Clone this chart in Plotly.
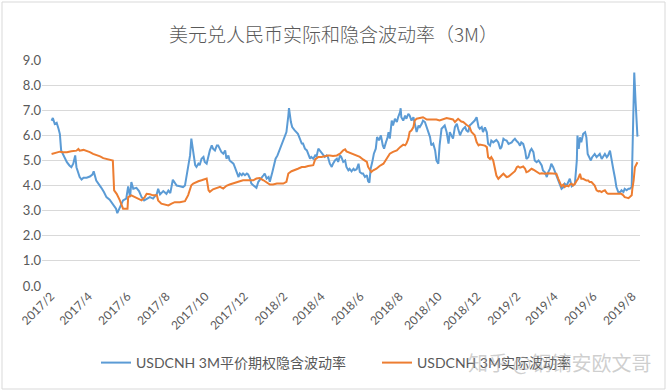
import pandas as pd
import plotly.graph_objects as go

START = "2017-02-01"

# Implied vol (USDCNH 3M ATM option implied volatility), days since START
implied_day = [1, 3, 6, 9, 12, 14, 16, 19, 22, 25, 29, 32, 35, 38, 40, 43, 45, 48, 51, 56,
               61, 65, 67, 71, 74, 79, 83, 87, 92, 98, 102, 104, 108, 113, 118, 121, 124, 126, 129, 134,
               138, 142, 146, 150, 155, 160, 166, 168, 171, 176, 181, 184, 187, 191, 194, 197, 202, 207,
               210, 218, 220, 223, 226, 228, 231, 233, 236, 239, 241, 244, 247, 249, 252, 254, 257, 260,
               262, 265, 267, 270, 273, 275, 278, 280, 283, 286, 288, 291, 294, 296, 299, 301, 304, 307,
               309, 312, 314, 317, 320, 322, 325, 327, 330, 333, 335, 338, 341, 343, 347, 350, 352, 355,
               359, 361, 364, 367, 369, 372, 373, 376, 378, 382, 387, 390, 393, 395, 398, 401, 403, 406,
               408, 411, 414, 416, 419, 421, 424, 427, 429, 432, 434,
               437, 440, 442, 445, 448, 450, 453, 455, 458, 461, 463, 466, 468, 471, 474, 476, 479, 482,
               484, 487, 489, 492, 495, 497, 499, 501, 504, 506, 509, 511, 514, 517, 520, 522, 525, 527,
               529, 531, 534, 536, 539, 542, 544, 547, 548, 549, 552, 555, 557, 560, 562, 565, 568, 570,
               573, 576, 578, 581, 583, 586, 589, 591, 594, 596, 599, 602, 604, 607, 609, 612, 615, 617,
               620, 623, 625, 628, 630, 633, 636, 638, 641, 643, 646, 649, 651, 654, 656, 659, 662, 664,
               667, 670, 672, 675, 677,
               680, 683, 685, 688, 690, 693, 696, 698, 701, 704, 706, 709, 711, 714, 717, 719, 722, 724,
               727, 730, 732, 735, 737, 740, 743, 745, 748, 751, 753, 756, 758, 761, 764, 766, 769, 771,
               774, 777, 779, 782, 784, 787, 790, 792, 795, 798, 800, 803, 805, 808, 811, 813, 816, 818,
               821, 824, 825, 827, 829, 831, 834, 837, 839, 841, 843, 846, 848, 850, 852, 855, 860, 863,
               865, 868, 871, 873, 876, 878, 881, 884, 886, 889, 892, 894, 897, 899, 902, 905, 907, 910,
               911, 913, 914, 916, 918, 919]
implied_vol = [6.58, 6.69, 6.45, 6.50, 6.25, 6.05, 5.40, 5.26, 5.06, 4.93, 4.80, 4.73, 4.87, 5.20, 4.73, 4.53, 4.34, 4.24, 4.31, 4.31,
               4.36, 4.44, 4.57, 4.20, 4.10, 3.91, 3.74, 3.54, 3.44, 3.20, 3.08, 2.90, 3.15, 3.41, 3.48, 3.97, 3.54, 4.14, 3.87, 3.91,
               3.78, 3.54, 3.41, 3.48, 3.54, 3.48, 3.67, 3.87, 3.65, 3.78, 3.67, 3.80, 3.70, 4.23, 4.10, 4.00, 3.97, 3.94,
               4.00, 5.20, 5.87, 5.27, 4.81, 4.74, 4.87, 4.81, 5.07, 5.14, 4.94, 4.87, 5.27, 5.40, 5.60, 5.47, 5.40, 5.60,
               5.60, 5.47, 5.34, 5.27, 5.40, 5.07, 5.20, 5.00, 4.94, 4.87, 4.74, 4.54, 4.34, 4.48, 4.41, 4.48, 4.41, 4.48,
               4.44, 4.28, 4.08, 4.01, 3.95, 3.91, 4.15, 4.21, 4.28, 4.41, 4.48, 4.28, 4.34, 4.15, 4.54, 4.94, 5.07, 5.20,
               5.47, 5.53, 5.73, 6.00, 6.13, 6.79, 7.08, 6.53, 6.33, 6.20, 6.06, 5.87, 5.67, 5.67, 5.47, 5.40, 5.27, 5.07,
               5.14, 5.07, 5.20, 5.14, 5.47, 5.40, 5.34, 5.20, 5.14, 5.20, 5.14,
               4.87, 4.74, 4.87, 5.00, 5.07, 4.94, 5.20, 5.14, 4.94, 5.00, 4.74, 4.61, 4.67, 4.57, 4.67, 4.61, 4.65, 4.87,
               4.54, 4.48, 4.48, 4.34, 4.41, 4.17, 4.12, 4.67, 5.00, 5.27, 5.47, 5.93, 5.80, 6.00, 5.60, 5.47, 5.73, 5.87,
               6.13, 5.87, 6.59, 6.39, 6.66, 6.53, 6.72, 6.92, 7.08, 6.72, 6.59, 6.79, 6.66, 6.86, 6.79, 6.59, 6.72, 6.53,
               6.13, 6.39, 6.33, 6.46, 6.59, 6.53, 6.33, 6.13, 5.93, 5.60, 5.67, 5.40, 5.00, 4.87, 5.60, 6.26, 6.33, 6.39,
               6.13, 5.67, 6.13, 6.00, 5.87, 6.33, 6.46, 6.26, 6.00, 6.13, 6.26, 6.33, 6.20, 6.13, 6.39, 6.46, 6.53, 6.59,
               6.72, 6.33, 6.26, 6.33, 6.13,
               6.32, 6.12, 5.66, 5.59, 5.79, 5.72, 5.79, 5.82, 5.72, 5.46, 5.53, 5.86, 5.82, 5.79, 5.66, 5.69, 5.72, 5.79,
               5.86, 5.76, 5.72, 5.59, 5.72, 5.66, 5.39, 5.06, 5.13, 5.39, 5.46, 5.33, 5.00, 4.93, 5.00, 4.93, 4.80, 4.60,
               4.53, 4.34, 4.53, 4.67, 4.87, 4.73, 4.53, 4.40, 4.20, 4.07, 3.87, 3.94, 4.07, 4.00, 4.14, 4.27, 3.97, 4.00,
               4.07, 5.00, 5.99, 5.46, 5.92, 5.72, 6.06, 6.12, 5.92, 5.26, 5.13, 5.00, 5.13, 5.20, 5.26, 5.13, 5.26, 5.06,
               5.13, 5.26, 5.13, 5.20, 5.39, 5.06, 4.67, 4.27, 3.94, 3.74, 3.74, 3.81, 3.74, 3.87, 3.81, 3.87, 3.87, 3.94,
               5.00, 7.38, 8.50, 7.38, 6.06, 5.95]

# Realized vol (USDCNH 3M realized volatility), days since START
realized_day = [1, 9, 14, 19, 25, 32, 40, 43, 45, 51, 56, 61, 66, 72, 77, 82, 87, 92, 97, 99,
                103, 108, 111, 113, 120, 121, 126, 132, 137, 142, 147, 150, 155, 160, 166, 168, 173, 179, 184, 189,
                194, 202,
                210, 215, 218, 220, 223, 226, 231, 236, 241, 244, 247, 249, 254, 260, 265, 270, 275, 280, 286, 291,
                296, 301, 307, 312, 317, 322, 327, 333, 338, 343, 348, 354, 359, 364, 369, 372, 377, 382, 387, 393,
                398, 403, 408, 411, 414, 419, 424, 429, 434,
                437, 442, 448, 453, 458, 461, 463, 468, 474, 479, 484, 489, 495, 497, 500, 502, 505, 510, 515, 521,
                526, 529, 531, 536, 542, 547, 552, 555, 557, 560, 562, 565, 568, 570, 573, 578, 583, 589, 594, 599,
                604, 609, 615, 620, 625, 630, 633, 636, 638, 643, 646, 651, 656, 659, 662, 664, 667, 670, 672, 677,
                680, 683, 685, 688, 690, 693, 696, 698, 701, 703, 706, 709, 711, 714, 717, 719, 722, 724, 727, 730,
                732, 735, 737, 740, 743, 745, 748, 750, 753, 756, 758, 761, 764, 766, 769, 774, 779, 784, 790, 792,
                795, 798, 800, 803, 805, 808, 811, 813, 816, 818, 821, 824, 826, 829, 831, 834, 837, 839, 842, 844,
                847, 850, 852, 855, 858, 860, 863, 865, 868, 871, 873, 878, 884, 889, 894, 897, 899, 902, 905, 907,
                910, 911, 913, 915, 918, 919]
realized_vol = [5.26, 5.33, 5.35, 5.33, 5.33, 5.37, 5.39, 5.46, 5.39, 5.42, 5.39, 5.33, 5.26, 5.22, 5.16, 5.09, 5.06, 5.06, 5.00, 3.81,
                3.67, 3.41, 3.15, 3.08, 3.08, 3.54, 3.61, 3.54, 3.48, 3.41, 3.54, 3.67, 3.65, 3.61, 3.61, 3.41, 3.28, 3.25, 3.21, 3.28,
                3.34, 3.34,
                3.38, 3.62, 3.81, 4.01, 4.08, 4.12, 4.17, 4.21, 4.25, 4.28, 3.81, 3.75, 3.85, 3.91, 3.95, 3.88, 3.99, 4.04, 4.08, 4.11,
                4.17, 4.21, 4.21, 4.21, 4.21, 4.28, 4.30, 4.21, 4.12, 4.04, 4.04, 4.08, 4.08, 4.08, 4.15, 4.48, 4.57, 4.61, 4.67, 4.74,
                4.74, 4.78, 4.81, 4.81, 5.04, 5.14, 5.14, 5.18, 5.20,
                5.20, 5.18, 5.20, 5.27, 5.40, 5.44, 5.36, 5.31, 5.27, 5.20, 5.14, 5.04, 4.94, 4.74, 4.61, 4.54, 4.61, 4.67, 4.78, 4.87,
                5.07, 5.20, 5.27, 5.34, 5.40, 5.53, 5.63, 5.60, 5.67, 5.87, 6.13, 6.20, 6.33, 6.59, 6.66, 6.69, 6.72, 6.63, 6.63, 6.63,
                6.63, 6.59, 6.66, 6.69, 6.66, 6.63, 6.53, 6.63, 6.66, 6.55, 6.53, 6.42, 6.33, 6.13, 6.06, 6.00, 5.73, 5.60, 5.63, 5.60,
                5.59, 5.53, 5.13, 5.06, 5.13, 5.00, 4.53, 4.40, 4.27, 4.34, 4.40, 4.47, 4.40, 4.34, 4.36, 4.40, 4.47, 4.49, 4.57, 4.73,
                4.76, 4.71, 4.73, 4.76, 4.67, 4.53, 4.56, 4.60, 4.67, 4.63, 4.60, 4.53, 4.49, 4.47, 4.49, 4.47, 4.49, 4.49, 4.49, 4.47,
                4.27, 4.07, 3.97, 4.04, 3.94, 4.00, 3.97, 4.04, 4.07, 4.00, 4.07, 4.20, 4.27, 4.47, 4.27, 4.27, 4.23, 4.20, 4.20, 4.14,
                4.14, 4.07, 4.00, 3.81, 3.77, 3.78, 3.74, 3.78, 3.81, 3.70, 3.67, 3.67, 3.67, 3.70, 3.67, 3.61, 3.54, 3.52, 3.50, 3.54,
                3.61, 3.87, 4.20, 4.73, 4.89, 4.93]

tick_dates = ["2017-02-01", "2017-04-01", "2017-06-01", "2017-08-01", "2017-10-01", "2017-12-01",
              "2018-02-01", "2018-04-01", "2018-06-01", "2018-08-01", "2018-10-01", "2018-12-01",
              "2019-02-01", "2019-04-01", "2019-06-01", "2019-08-01"]
tick_labels = ["2017/2", "2017/4", "2017/6", "2017/8", "2017/10", "2017/12",
               "2018/2", "2018/4", "2018/6", "2018/8", "2018/10", "2018/12",
               "2019/2", "2019/4", "2019/6", "2019/8"]
y_ticks = [0, 1, 2, 3, 4, 5, 6, 7, 8, 9]

title_text = "美元兑人民币实际和隐含波动率（3M）"
name_implied = "USDCNH 3M平价期权隐含波动率"
name_realized = "USDCNH 3M实际波动率"
watermark = "知乎 @钢镝安欧文哥"

start = pd.Timestamp(START)
x_implied = start + pd.to_timedelta(implied_day, unit="D")
x_realized = start + pd.to_timedelta(realized_day, unit="D")

FONT = "Lato, 'Noto Sans CJK SC', sans-serif"
CJK = "'Noto Sans CJK SC', sans-serif"
GREY = "#595959"

fig = go.Figure()
fig.add_trace(go.Scatter(x=x_implied, y=implied_vol, mode="lines", name=name_implied,
                         line=dict(color="#5B9BD5", width=2), legendwidth=236))
fig.add_trace(go.Scatter(x=x_realized, y=realized_vol, mode="lines", name=name_realized,
                         line=dict(color="#ED7D31", width=2)))

L, R, T, B = 42, 27, 60, 106
W, H = 667, 392
pw, ph = W - L - R, H - T - B

fig.update_layout(
    width=W, height=H,
    margin=dict(l=L, r=R, t=T, b=B),
    paper_bgcolor="white", plot_bgcolor="white",
    font=dict(family=FONT, color=GREY, size=12),
    title=dict(text=title_text, x=0.5, xanchor="center", y=1 - 35 / H, yanchor="middle",
               font=dict(family=CJK, size=19, color=GREY, weight=300)),
    xaxis=dict(type="date", range=["2017-01-18", "2019-08-13"], tickvals=tick_dates,
               ticktext=tick_labels, tickangle=-45, showgrid=False, zeroline=False,
               showline=False, ticks="", tickfont=dict(size=12, color=GREY)),
    yaxis=dict(range=[0, 9], tickvals=y_ticks, tickformat=".1f", showgrid=True,
               gridcolor="#D9D9D9", gridwidth=1, zeroline=False, showline=False, ticks="",
               tickfont=dict(size=13, color=GREY)),
    legend=dict(orientation="h", x=0.5 - 5.0 / pw, xanchor="center", y=(286 - 363) / ph, yanchor="middle",
                font=dict(size=14, color=GREY, family=FONT), itemwidth=30,
                bgcolor="rgba(0,0,0,0)"),
    showlegend=True,
)

fig.add_shape(type="rect", xref="paper", yref="paper",
              x0=(2 - L) / pw, x1=(665 - L) / pw, y0=(286 - 389) / ph, y1=(286 - 2) / ph,
              line=dict(color="#D9D9D9", width=1), fillcolor="rgba(0,0,0,0)", layer="below")

fig.add_annotation(text=watermark, xref="paper", yref="paper", x=(559 - L) / pw, y=(286 - 362) / ph,
                   xanchor="center", yanchor="middle", showarrow=False,
                   font=dict(size=20, color="rgba(160,160,160,0.5)", family=CJK))

fig.write_html("out.html", config={"displayModeBar": False},
               post_script="document.body.style.margin='0';")
